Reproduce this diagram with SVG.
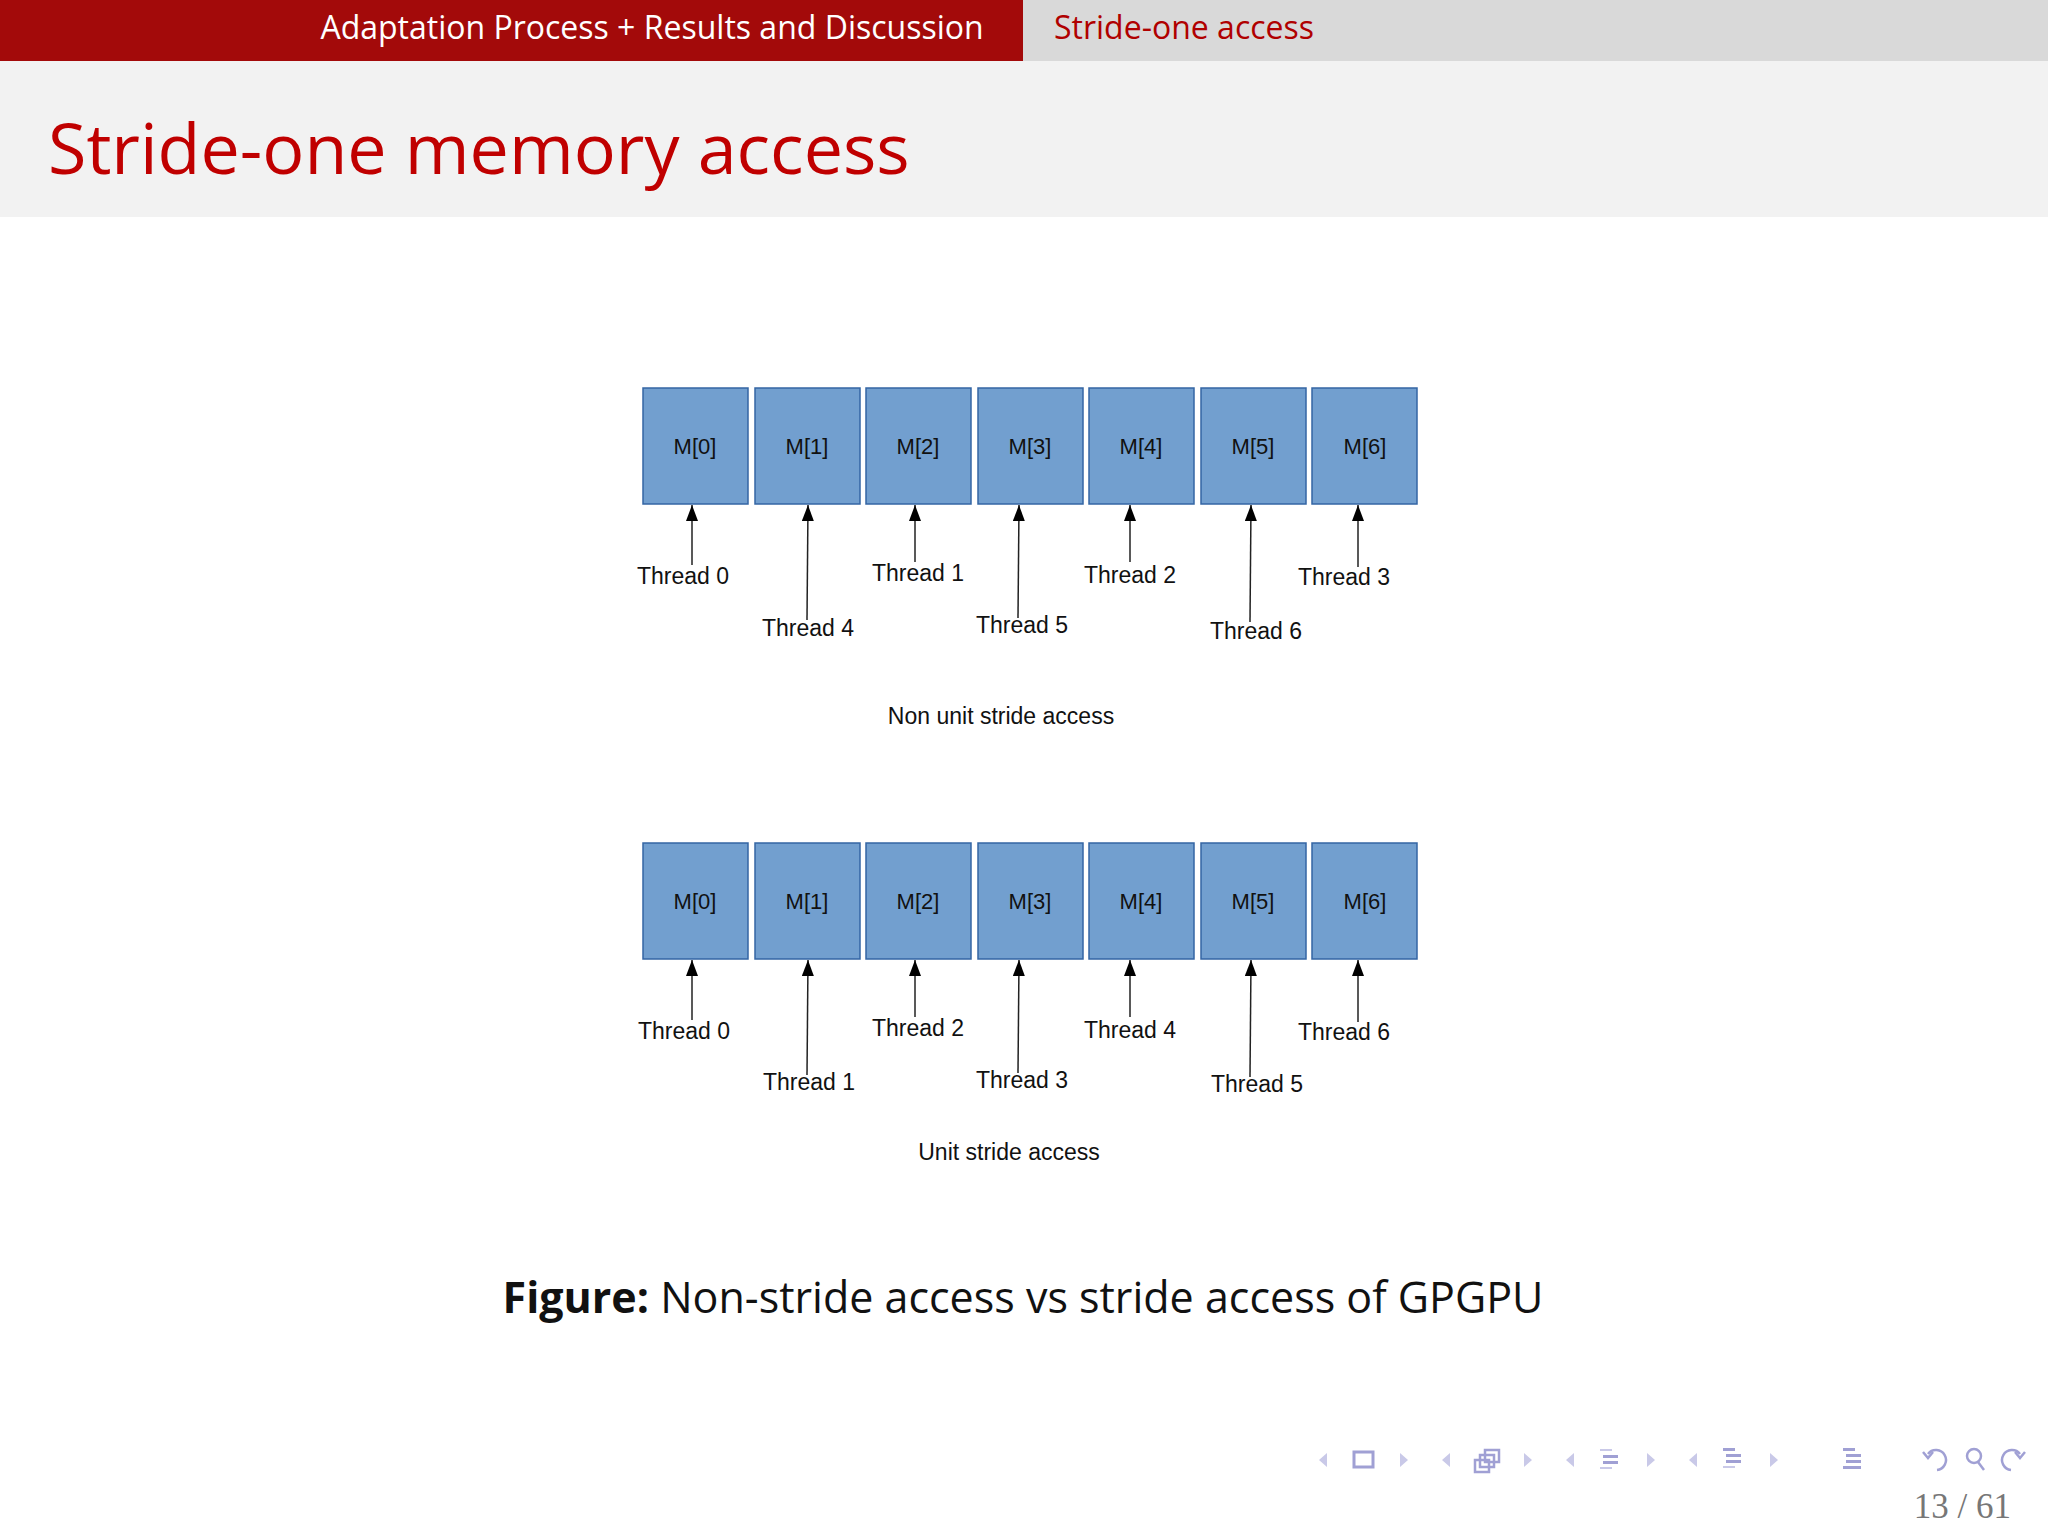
<svg xmlns="http://www.w3.org/2000/svg" width="2048" height="1536" viewBox="0 0 2048 1536">
<style>
.box{fill:#729fcf;stroke:#3465a4;stroke-width:1.5}
.ml{font-family:"Liberation Sans",Arial,sans-serif;font-size:22px;fill:#111;text-anchor:middle}
.th{font-family:"Liberation Sans",Arial,sans-serif;font-size:23px;fill:#111;text-anchor:middle}
.ar{stroke:#222;stroke-width:1.5;fill:none;marker-end:url(#ah)}
.nav{fill:#c9c9e8}
.navd{fill:#a0a0d4}
</style>
<defs>
<marker id="ah" viewBox="0 0 16 12" refX="16" refY="6" markerWidth="16" markerHeight="12" markerUnits="userSpaceOnUse" orient="auto"><path d="M0,0 L16,6 L0,12 Z" fill="#000"/></marker>
</defs>
<rect width="2048" height="1536" fill="#fff"/>
<rect x="0" y="0" width="1023" height="61" fill="#a30a0a"/>
<rect x="1023" y="0" width="1025" height="61" fill="#d9d9d9"/>
<text x="652" y="39" font-family="Open Sans,'DejaVu Sans',sans-serif" font-size="32" fill="#fff" text-anchor="middle">Adaptation Process + Results and Discussion</text>
<text x="1054" y="39" font-family="Open Sans,'DejaVu Sans',sans-serif" font-size="32" fill="#b00000">Stride-one access</text>
<rect x="0" y="61" width="2048" height="156" fill="#f2f2f2"/>
<text x="48" y="174" font-family="Open Sans,'DejaVu Sans',sans-serif" font-size="70" fill="#c00000">Stride-one memory access</text>

<g id="top-row">
<g id="t0"><rect class="box" x="643" y="388" width="105" height="116"/><text class="ml" x="695" y="454">M[0]</text></g>
<g id="t1"><rect class="box" x="755" y="388" width="105" height="116"/><text class="ml" x="807" y="454">M[1]</text></g>
<g id="t2"><rect class="box" x="866" y="388" width="105" height="116"/><text class="ml" x="918" y="454">M[2]</text></g>
<g id="t3"><rect class="box" x="978" y="388" width="105" height="116"/><text class="ml" x="1030" y="454">M[3]</text></g>
<g id="t4"><rect class="box" x="1089" y="388" width="105" height="116"/><text class="ml" x="1141" y="454">M[4]</text></g>
<g id="t5"><rect class="box" x="1201" y="388" width="105" height="116"/><text class="ml" x="1253" y="454">M[5]</text></g>
<g id="t6"><rect class="box" x="1312" y="388" width="105" height="116"/><text class="ml" x="1365" y="454">M[6]</text></g>
</g>
<g id="top-connectors">
<line class="ar" x1="692" y1="565" x2="692" y2="505"/>
<line class="ar" x1="807" y1="620" x2="808" y2="505"/>
<line class="ar" x1="915" y1="562" x2="915" y2="505"/>
<line class="ar" x1="1018" y1="618" x2="1019" y2="505"/>
<line class="ar" x1="1130" y1="562" x2="1130" y2="505"/>
<line class="ar" x1="1250" y1="622" x2="1251" y2="505"/>
<line class="ar" x1="1358" y1="567" x2="1358" y2="505"/>
</g>
<g id="top-labels">
<text class="th" x="683" y="584">Thread 0</text>
<text class="th" x="808" y="636">Thread 4</text>
<text class="th" x="918" y="581">Thread 1</text>
<text class="th" x="1022" y="633">Thread 5</text>
<text class="th" x="1130" y="583">Thread 2</text>
<text class="th" x="1256" y="639">Thread 6</text>
<text class="th" x="1344" y="585">Thread 3</text>
<text class="th" x="1001" y="724">Non unit stride access</text>
</g>

<g id="bottom-row">
<g id="b0"><rect class="box" x="643" y="843" width="105" height="116"/><text class="ml" x="695" y="909">M[0]</text></g>
<g id="b1"><rect class="box" x="755" y="843" width="105" height="116"/><text class="ml" x="807" y="909">M[1]</text></g>
<g id="b2"><rect class="box" x="866" y="843" width="105" height="116"/><text class="ml" x="918" y="909">M[2]</text></g>
<g id="b3"><rect class="box" x="978" y="843" width="105" height="116"/><text class="ml" x="1030" y="909">M[3]</text></g>
<g id="b4"><rect class="box" x="1089" y="843" width="105" height="116"/><text class="ml" x="1141" y="909">M[4]</text></g>
<g id="b5"><rect class="box" x="1201" y="843" width="105" height="116"/><text class="ml" x="1253" y="909">M[5]</text></g>
<g id="b6"><rect class="box" x="1312" y="843" width="105" height="116"/><text class="ml" x="1365" y="909">M[6]</text></g>
</g>
<g id="bottom-connectors">
<line class="ar" x1="692" y1="1020" x2="692" y2="960"/>
<line class="ar" x1="807" y1="1075" x2="808" y2="960"/>
<line class="ar" x1="915" y1="1017" x2="915" y2="960"/>
<line class="ar" x1="1018" y1="1073" x2="1019" y2="960"/>
<line class="ar" x1="1130" y1="1017" x2="1130" y2="960"/>
<line class="ar" x1="1250" y1="1077" x2="1251" y2="960"/>
<line class="ar" x1="1358" y1="1022" x2="1358" y2="960"/>
</g>
<g id="bottom-labels">
<text class="th" x="684" y="1039">Thread 0</text>
<text class="th" x="809" y="1090">Thread 1</text>
<text class="th" x="918" y="1036">Thread 2</text>
<text class="th" x="1022" y="1088">Thread 3</text>
<text class="th" x="1130" y="1038">Thread 4</text>
<text class="th" x="1257" y="1092">Thread 5</text>
<text class="th" x="1344" y="1040">Thread 6</text>
<text class="th" x="1009" y="1160">Unit stride access</text>
</g>

<text x="1023" y="1313" font-family="Open Sans,'DejaVu Sans',sans-serif" font-size="43" fill="#111" text-anchor="middle"><tspan font-weight="bold">Figure:</tspan> Non-stride access vs stride access of GPGPU</text>

<g id="nav">
<path class="nav" d="M1327,1453 l-8,7 l8,7 Z M1400,1453 l8,7 l-8,7 Z"/>
<rect x="1354" y="1452" width="19" height="15" fill="none" stroke="#a0a0d4" stroke-width="3"/>
<path class="nav" d="M1450,1453 l-8,7 l8,7 Z M1524,1453 l8,7 l-8,7 Z"/>
<g fill="none" stroke="#a0a0d4" stroke-width="2.5"><rect x="1475" y="1460" width="14" height="12"/><rect x="1480" y="1455" width="14" height="12"/><rect x="1485" y="1450" width="14" height="12"/></g>
<path class="nav" d="M1574,1453 l-8,7 l8,7 Z M1647,1453 l8,7 l-8,7 Z"/>
<g class="navd"><rect x="1600" y="1449" width="12" height="2" class="nav"/><rect x="1603" y="1455" width="15" height="3"/><rect x="1603" y="1461" width="15" height="3"/><rect x="1600" y="1467" width="12" height="2" class="nav"/></g>
<path class="nav" d="M1697,1453 l-8,7 l8,7 Z M1770,1453 l8,7 l-8,7 Z"/>
<g class="navd"><rect x="1723" y="1448" width="12" height="3"/><rect x="1726" y="1454" width="15" height="3"/><rect x="1726" y="1460" width="15" height="3"/><rect x="1723" y="1466" width="12" height="2" class="nav"/></g>
<g class="navd"><rect x="1843" y="1448" width="12" height="3"/><rect x="1846" y="1454" width="15" height="3"/><rect x="1846" y="1460" width="15" height="3"/><rect x="1843" y="1466" width="18" height="3"/></g>
<g fill="none" stroke="#a0a0d4" stroke-width="2.5"><path d="M1928,1454 A10,10 0 1 1 1937,1470"/><path d="M1923,1452 l5,6 l5,-6"/><circle cx="1974" cy="1456" r="7"/><path d="M1978,1462 l6,8"/><path d="M2020,1454 A10,10 0 1 0 2011,1470"/><path d="M2015,1452 l5,6 l5,-6"/></g>
<text x="2011" y="1518" font-family="'Liberation Serif',serif" font-size="35" fill="#777" text-anchor="end">13 / 61</text>
</g>
</svg>
